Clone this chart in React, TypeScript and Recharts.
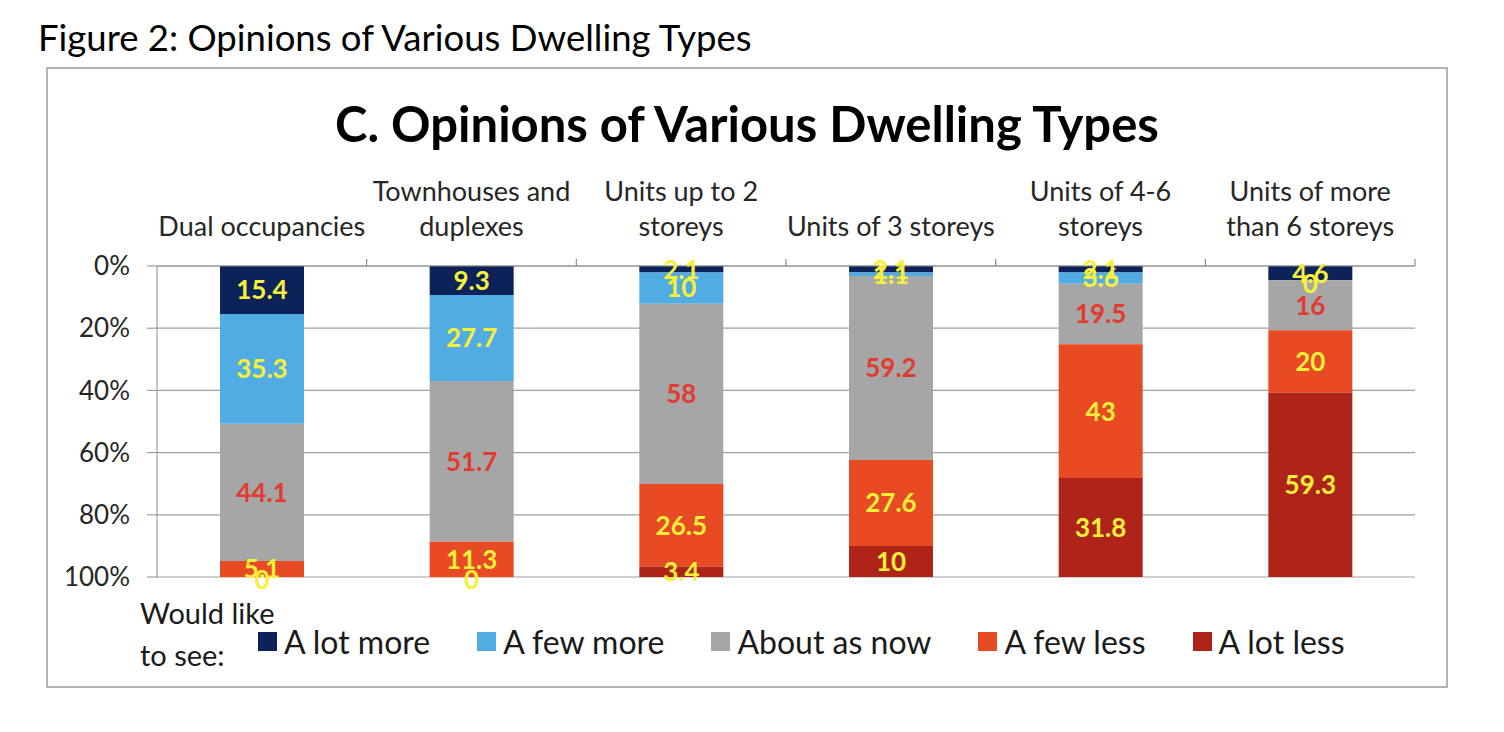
import React from 'react';
import { BarChart, Bar, XAxis, YAxis, CartesianGrid, LabelList } from 'recharts';

const categories = [
  'Dual occupancies',
  'Townhouses and\nduplexes',
  'Units up to 2\nstoreys',
  'Units of 3 storeys',
  'Units of 4-6\nstoreys',
  'Units of more\nthan 6 storeys',
];

const aLotMore = [15.4, 9.3, 2.1, 2.1, 2.1, 4.6];
const aFewMore = [35.3, 27.7, 10, 1.1, 3.6, 0];
const aboutAsNow = [44.1, 51.7, 58, 59.2, 19.5, 16];
const aFewLess = [5.1, 11.3, 26.5, 27.6, 43, 20];
const aLotLess = [0, 0, 3.4, 10, 31.8, 59.3];

const seriesNames = ['A lot more', 'A few more', 'About as now', 'A few less', 'A lot less'];
const seriesColors = ['#0c2259', '#52ace4', '#a6a6a6', '#e84a24', '#ae2418'];
const labelColors = ['#f6f03a', '#f6f03a', '#e23a30', '#f6f03a', '#f6f03a'];
const yTicks = [0, 0.2, 0.4, 0.6, 0.8, 1];

const allSeries = [aLotMore, aFewMore, aboutAsNow, aFewLess, aLotLess];

const data = categories.map((name, i) => {
  const row: Record<string, any> = { name };
  allSeries.forEach((s, k) => {
    row['s' + k] = s[i];
  });
  return row;
});

const FONT = 'Lato, "Open Sans", sans-serif';
const PLOT_LEFT = 157;
const PLOT_RIGHT = 1415;
const PLOT_TOP = 266;
const PLOT_BOTTOM = 577;
const BAND = (PLOT_RIGHT - PLOT_LEFT) / categories.length;

const CategoryTick = (props: any) => {
  const { x, y, payload } = props;
  const lines = String(payload.value).split('\n');
  const half = BAND / 2;
  return (
    <g>
      <line x1={x + half} x2={x + half} y1={y - 7} y2={y} stroke="#8c8c8c" strokeWidth={1.2} />
      {lines.map((line, i) => (
        <text
          key={i}
          x={x}
          y={y - 30 - (lines.length - 1 - i) * 35}
          textAnchor="middle"
          fill="#262626"
          fontSize={27}
          fontFamily={FONT}
        >
          {line}
        </text>
      ))}
    </g>
  );
};

const valueText = (key: string, x: number, y: number, color: string, value: number) => (
  <text
    key={key}
    x={x}
    y={y}
    dy="0.36em"
    textAnchor="middle"
    fill={color}
    fontSize={26}
    fontWeight={700}
    fontFamily={FONT}
  >
    {value}
  </text>
);

// zero-height segments get no label from Recharts, so the segment above them draws it at its lower edge
const makeLabel = (k: number) => (props: any) => {
  const { x, y, width, height, value, index } = props;
  const cx = x + width / 2;
  const bottom = Math.max(y, y + height);
  const extra: React.ReactNode[] = [];
  for (let j = k + 1; j < allSeries.length && allSeries[j][index] === 0; j++) {
    extra.push(valueText('z' + j, cx, bottom + 3, labelColors[j], 0));
  }
  return (
    <g>
      {valueText('v', cx, y + height / 2, labelColors[k], value)}
      {extra}
    </g>
  );
};

export default function App() {
  return (
    <div style={{ position: 'absolute', left: 0, top: 0, width: 1504, height: 732, background: '#fff', fontFamily: FONT }}>
      <div style={{ position: 'absolute', left: 38, top: 19, fontSize: 36.5, lineHeight: 1, color: '#000' }}>
        Figure 2: Opinions of Various Dwelling Types
      </div>
      <div
        style={{
          position: 'absolute',
          left: 46,
          top: 67,
          width: 1402,
          height: 621,
          border: '2px solid #b4b4b4',
          boxSizing: 'border-box',
        }}
      />
      <div
        style={{
          position: 'absolute',
          left: 46,
          width: 1402,
          top: 99,
          textAlign: 'center',
          fontSize: 49,
          fontWeight: 700,
          lineHeight: 1,
          color: '#000',
        }}
      >
        C. Opinions of Various Dwelling Types
      </div>

      <div style={{ position: 'absolute', left: 0, top: 0 }}>
        <BarChart
          width={1504}
          height={732}
          data={data}
          stackOffset="expand"
          barSize={84}
          margin={{ top: PLOT_TOP - 80, left: PLOT_LEFT - 60, right: 1504 - PLOT_RIGHT, bottom: 732 - PLOT_BOTTOM }}
        >
          <CartesianGrid vertical={false} stroke="#a0a0a0" strokeWidth={1.2} />
          <XAxis
            dataKey="name"
            orientation="top"
            height={80}
            tickLine={false}
            tickSize={0}
            tickMargin={0}
            axisLine={{ stroke: '#8c8c8c' }}
            tick={<CategoryTick />}
            interval={0}
          />
          <YAxis
            reversed
            domain={[0, 1]}
            ticks={yTicks}
            width={60}
            tickSize={10}
            tickMargin={17}
            tickFormatter={(v: number) => `${Math.round(v * 100)}%`}
            axisLine={{ stroke: '#8c8c8c' }}
            tickLine={{ stroke: '#8c8c8c' }}
            tick={{ fill: '#262626', fontSize: 26, fontFamily: FONT }}
          />
          {seriesNames.map((n, k) => (
            <Bar key={n} dataKey={'s' + k} name={n} stackId="a" fill={seriesColors[k]} isAnimationActive={false}>
              <LabelList dataKey={'s' + k} content={makeLabel(k)} />
            </Bar>
          ))}
        </BarChart>
      </div>

      <div style={{ position: 'absolute', left: 140, top: 592, fontSize: 29, lineHeight: '42px', color: '#1a1a1a' }}>
        <div>Would like</div>
        <div>to see:</div>
      </div>
      <div
        style={{
          position: 'absolute',
          left: 258,
          top: 620,
          height: 42,
          display: 'flex',
          alignItems: 'center',
          gap: 47,
          fontSize: 32,
          color: '#1a1a1a',
        }}
      >
        {seriesNames.map((n, k) => (
          <div key={n} style={{ display: 'flex', alignItems: 'center' }}>
            <div style={{ width: 19, height: 19, background: seriesColors[k], marginRight: 7 }} />
            <span>{n}</span>
          </div>
        ))}
      </div>
    </div>
  );
}
